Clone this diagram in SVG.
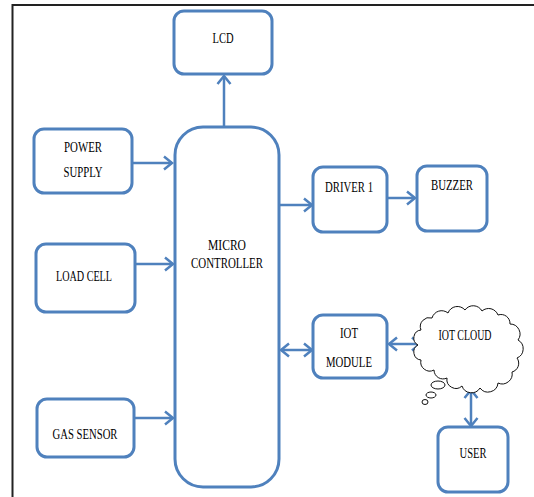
<svg xmlns="http://www.w3.org/2000/svg" width="534" height="497" viewBox="0 0 534 497">
<defs>
<style>
.box{fill:#fff;stroke:#4F81BD;stroke-width:3}
.lbl{font-family:"Liberation Serif","Times New Roman",serif;font-size:15px;fill:#000;text-anchor:middle}
.con{fill:none;stroke:#4F81BD;stroke-width:2.5}
.cloud{fill:#fff;stroke:#111;stroke-width:1}
</style>
<marker id="ah" markerUnits="userSpaceOnUse" markerWidth="14" markerHeight="16" refX="10" refY="8" orient="auto-start-reverse">
<path d="M2,1.5 L10,8 L2,14.5" fill="none" stroke="#4F81BD" stroke-width="2.5"/>
</marker>
</defs>
<rect width="534" height="497" fill="#fff"/>
<g id="frame">
<line x1="12" y1="5" x2="534" y2="5" stroke="#222" stroke-width="2"/>
<line x1="12.5" y1="4" x2="12.5" y2="497" stroke="#222" stroke-width="2"/>
</g>
<g id="connectors">
<line class="con" x1="224" y1="127" x2="224" y2="76" marker-end="url(#ah)"/>
<line class="con" x1="133" y1="163" x2="172" y2="163" marker-end="url(#ah)"/>
<line class="con" x1="136" y1="264" x2="173" y2="264" marker-end="url(#ah)"/>
<line class="con" x1="135" y1="418" x2="173" y2="418" marker-end="url(#ah)"/>
<line class="con" x1="280" y1="205" x2="312" y2="205" marker-end="url(#ah)"/>
<line class="con" x1="388" y1="198" x2="415" y2="198" marker-end="url(#ah)"/>
<line class="con" x1="281" y1="350" x2="312" y2="350" marker-start="url(#ah)" marker-end="url(#ah)"/>
<line class="con" x1="389" y1="344" x2="420" y2="344" marker-start="url(#ah)" marker-end="url(#ah)"/>
<line class="con" x1="471" y1="390" x2="471" y2="426" marker-start="url(#ah)" marker-end="url(#ah)"/>
</g>
<g id="lcd">
<rect class="box" x="174" y="11" width="98" height="63" rx="10"/>
<text class="lbl" x="223" y="43" textLength="21" lengthAdjust="spacingAndGlyphs">LCD</text>
</g>
<g id="power-supply">
<rect class="box" x="34" y="129" width="98" height="64" rx="10"/>
<text class="lbl" x="83" y="152" textLength="38" lengthAdjust="spacingAndGlyphs">POWER</text>
<text class="lbl" x="83" y="177" textLength="39" lengthAdjust="spacingAndGlyphs">SUPPLY</text>
</g>
<g id="load-cell">
<rect class="box" x="36" y="244" width="99" height="68" rx="10"/>
<text class="lbl" x="84" y="281" textLength="56" lengthAdjust="spacingAndGlyphs">LOAD CELL</text>
</g>
<g id="gas-sensor">
<rect class="box" x="37" y="399" width="97" height="58" rx="10"/>
<text class="lbl" x="85" y="439" textLength="65" lengthAdjust="spacingAndGlyphs">GAS SENSOR</text>
</g>
<g id="micro-controller">
<rect class="box" x="175" y="127" width="104" height="360" rx="28"/>
<text class="lbl" x="227" y="250" textLength="38" lengthAdjust="spacingAndGlyphs">MICRO</text>
<text class="lbl" x="227" y="268" textLength="72" lengthAdjust="spacingAndGlyphs">CONTROLLER</text>
</g>
<g id="driver1">
<rect class="box" x="313" y="167" width="74" height="65" rx="10"/>
<text class="lbl" x="349" y="192" textLength="48" lengthAdjust="spacingAndGlyphs">DRIVER 1</text>
</g>
<g id="buzzer">
<rect class="box" x="417" y="166" width="70" height="65" rx="10"/>
<text class="lbl" x="452" y="190" textLength="42" lengthAdjust="spacingAndGlyphs">BUZZER</text>
</g>
<g id="iot-module">
<rect class="box" x="313" y="315" width="74" height="63" rx="10"/>
<text class="lbl" x="349" y="338" textLength="18" lengthAdjust="spacingAndGlyphs">IOT</text>
<text class="lbl" x="349" y="367" textLength="46" lengthAdjust="spacingAndGlyphs">MODULE</text>
</g>
<g id="iot-cloud">
<path class="cloud" d="M421,330 A9,9 0 0 1 432,318 A10,10 0 0 1 448,313 A10,10 0 0 1 465,310 A10,10 0 0 1 482,311 A10,10 0 0 1 498,315 A9,9 0 0 1 510,324 A10,10 0 0 1 518,340 A10,10 0 0 1 517,358 A9,9 0 0 1 512,372 A10,10 0 0 1 498,383 A10,10 0 0 1 480,388 A10,10 0 0 1 462,386 A9,9 0 0 1 447,378 A9,9 0 0 1 434,370 A9,9 0 0 1 421,360 A8,8 0 0 1 418,345 A8,8 0 0 1 421,330 Z"/>
<ellipse class="cloud" cx="438" cy="385" rx="7" ry="4"/>
<ellipse class="cloud" cx="431" cy="395" rx="5" ry="3"/>
<ellipse class="cloud" cx="425" cy="402" rx="3" ry="2.5"/>
<text class="lbl" x="465" y="340" textLength="53" lengthAdjust="spacingAndGlyphs">IOT CLOUD</text>
</g>
<g id="user">
<rect class="box" x="438" y="427" width="70" height="65" rx="10"/>
<text class="lbl" x="473" y="458" textLength="27" lengthAdjust="spacingAndGlyphs">USER</text>
</g>
</svg>
